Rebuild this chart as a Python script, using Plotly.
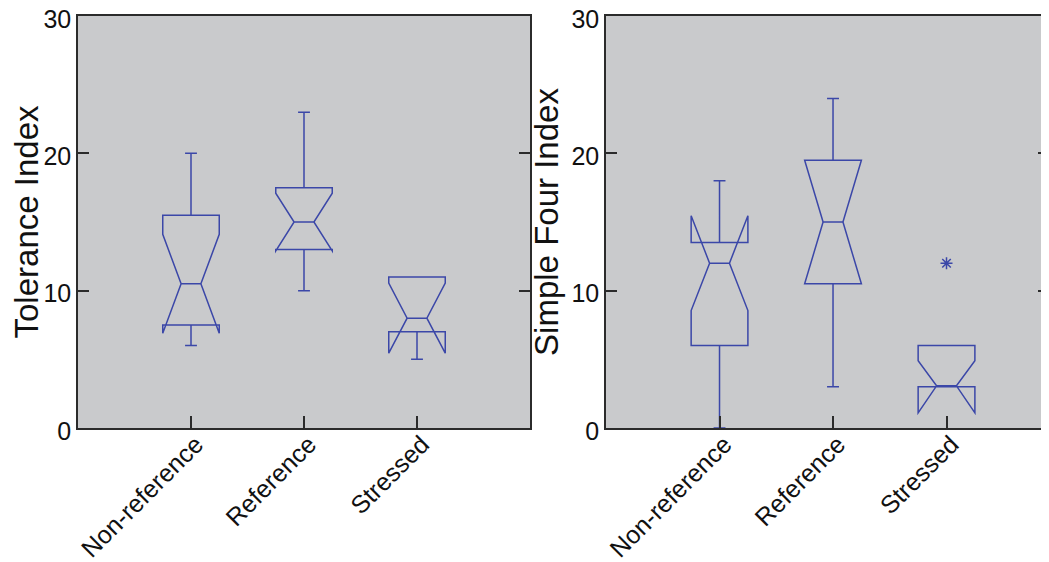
import plotly.graph_objects as go

# ---- data ----
categories = ["Non-reference", "Reference", "Stressed"]
positions = [1, 2, 3]

# Tolerance Index (left panel)
tol_q1 = [7.5, 13.0, 7.0]
tol_median = [10.5, 15.0, 8.0]
tol_q3 = [15.5, 17.5, 11.0]
tol_lower = [6.0, 10.0, 5.0]
tol_upper = [20.0, 23.0, 11.0]
tol_notch = [3.6, 2.1, 2.55]

# Simple Four Index (right panel)
sfi_q1 = [6.0, 10.5, 3.0]
sfi_median = [12.0, 15.0, 3.0]
sfi_q3 = [13.5, 19.5, 6.0]
sfi_lower = [0.0, 3.0, 3.0]
sfi_upper = [18.0, 24.0, 6.0]
sfi_notch = [3.45, 4.5, 1.9]
sfi_outlier_pos = [3]
sfi_outlier_y = [12.0]

y_ticks = [0, 10, 20, 30]

# ---- style ----
BLUE = "#3b47a8"
AXIS = "#2b2b2b"
BG = "#c9cacc"
FONT = "Liberation Sans, Arial, sans-serif"
TXT = "#111111"

fig = go.Figure()


def add_boxes(q1, med, q3, lo, hi, notch, xa, ya):
    for i, p in enumerate(positions):
        # whiskers are only drawn when a fence lies outside the box
        has_whiskers = lo[i] < q1[i] or hi[i] > q3[i]
        fig.add_trace(go.Box(
            x=[p], q1=[q1[i]], median=[med[i]], q3=[q3[i]],
            lowerfence=[lo[i]], upperfence=[hi[i]], notchspan=[notch[i]],
            notched=True, notchwidth=0.325, whiskerwidth=0.21,
            showwhiskers=has_whiskers,
            width=0.5, boxpoints=False,
            fillcolor="rgba(0,0,0,0)",
            line=dict(color=BLUE, width=1.5),
            xaxis=xa, yaxis=ya, showlegend=False, hoverinfo="skip",
        ))


add_boxes(tol_q1, tol_median, tol_q3, tol_lower, tol_upper, tol_notch, "x", "y")
add_boxes(sfi_q1, sfi_median, sfi_q3, sfi_lower, sfi_upper, sfi_notch, "x2", "y2")

fig.add_trace(go.Scatter(
    x=sfi_outlier_pos, y=sfi_outlier_y, mode="markers",
    marker=dict(symbol="asterisk-open", size=10,
                line=dict(color=BLUE, width=1.5), color=BLUE),
    xaxis="x2", yaxis="y2", showlegend=False, hoverinfo="skip",
))

xcommon = dict(
    tickvals=positions, ticktext=categories, tickangle=-45,
    ticks="inside", ticklen=12, tickwidth=1.5, tickcolor=AXIS,
    showline=True, linecolor=AXIS, linewidth=1.5, mirror=True,
    showgrid=False, zeroline=False, automargin=False,
    ticklabelstandoff=-10, ticklabelshift=5, ticklabeloverflow="allow",
    tickfont=dict(family=FONT, size=25, color=TXT),
)
ycommon = dict(
    range=[0, 30], tickvals=y_ticks,
    ticks="inside", ticklen=11, tickwidth=1.5, tickcolor=AXIS,
    showline=True, linecolor=AXIS, linewidth=1.5, mirror="ticks",
    showgrid=False, zeroline=False, automargin=False,
    ticklabeloverflow="allow", ticklabelshift=3,
    tickfont=dict(family=FONT, size=25, color=TXT),
)

# the page body adds an 8px offset, so the figure is sized to fill the rest
fig.update_layout(
    width=1041, height=554,
    margin=dict(l=70, r=0, t=8, b=134),
    paper_bgcolor="white", plot_bgcolor=BG,
    font=dict(family=FONT, color=TXT),
    xaxis=dict(domain=[0, 0.4655], range=[0, 4], anchor="y", **xcommon),
    xaxis2=dict(domain=[0.5438, 1.0], range=[0, 3.903], anchor="y2", **xcommon),
    yaxis=dict(domain=[0, 1], anchor="x",
               title=dict(text="Tolerance Index", standoff=16,
                          font=dict(family=FONT, size=33, color=TXT)),
               **ycommon),
    yaxis2=dict(domain=[0, 1], anchor="x2",
                title=dict(text="Simple Four Index", standoff=3,
                           font=dict(family=FONT, size=33, color=TXT)),
                **ycommon),
)

fig.write_html("out.html")
